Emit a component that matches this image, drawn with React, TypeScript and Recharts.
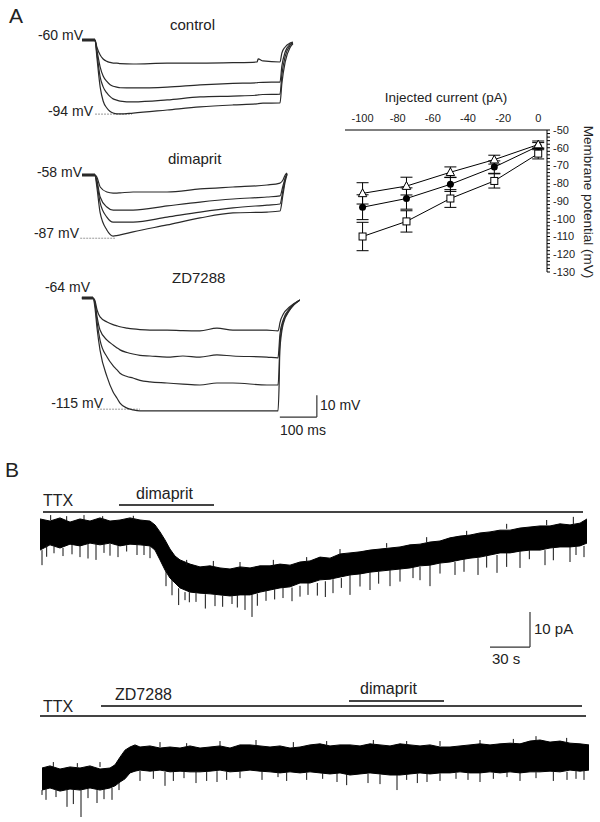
import React from "react";
import { LineChart, Line, AreaChart, Area, XAxis, YAxis, ReferenceLine, ErrorBar } from "recharts";

const FONT = '"Liberation Sans", Arial, Helvetica, sans-serif';
const INK = "#222";

// ---- A: voltage responses to current steps (ms, mV) ----
const ctrlTime = [-35, 0, 5, 14, 22, 32, 41, 49, 59, 68, 103, 195, 284, 373, 438, 441, 454, 500, 505, 514, 527, 535];
const ctrlSweep1 = [-60, -60, -63.2, -66.9, -68.7, -69.8, -70.3, -70.6, -70.6, -70.8, -71.0, -70.6, -70.6, -70.4, -70.1, -68.7, -69.6, -70.1, -66.0, -63.2, -61.4, -60.9];
const ctrlSweep2 = [-60, -60, -64.5, -72.4, -76.5, -79.0, -80.5, -81.2, -81.6, -81.9, -82.0, -81.6, -80.6, -79.9, -79.6, -79.5, -79.4, -79.3, -72.0, -65.5, -62.0, -61.2];
const ctrlSweep3 = [-60, -60, -66.0, -77.0, -81.5, -84.3, -86.0, -87.0, -87.6, -88.0, -88.4, -87.5, -86.1, -85.7, -85.3, -85.2, -85.0, -84.8, -76.0, -67.5, -62.5, -61.5];
const ctrlSweep4 = [-60, -60, -67.8, -81.6, -88.0, -91.2, -92.8, -93.5, -93.9, -93.9, -93.5, -92.1, -90.7, -89.8, -89.3, -89.2, -89.0, -88.9, -80.0, -70.0, -63.5, -61.8];

const dimTime = [-35, 0, 5, 14, 32, 49, 59, 68, 103, 195, 284, 373, 465, 500, 508, 514, 519];
const dimSweep1 = [-58, -58, -58.9, -63.5, -65.8, -66.3, -66.3, -66.2, -65.8, -65.8, -64.4, -63.5, -62.6, -61.7, -60.3, -58.0, -57.1];
const dimSweep2 = [-58, -58, -60.3, -68.1, -72.7, -74.1, -74.1, -74.1, -74.1, -72.2, -70.4, -69.0, -68.1, -67.6, -63.0, -59.5, -57.3];
const dimSweep3 = [-58, -58, -61.7, -70.8, -77.3, -79.6, -79.6, -79.6, -79.6, -77.3, -75.0, -73.1, -71.8, -71.3, -65.0, -60.0, -57.5];
const dimSweep4 = [-58, -58, -63.5, -75.4, -83.2, -86.0, -85.8, -85.5, -84.1, -80.9, -77.7, -75.4, -75.0, -74.5, -67.0, -61.0, -57.8];

const zdTime = [-30, 0, 5, 11, 19, 38, 54, 65, 73, 92, 108, 127, 154, 200, 243, 289, 335, 378, 470, 500, 503, 505, 514, 532, 559];
const zdSweep1 = [-64, -64, -65.0, -69.5, -72.7, -75.0, -76.2, -76.8, -77.2, -77.8, -78.2, -78.5, -78.7, -78.7, -79.0, -79.1, -77.8, -78.7, -78.7, -79.1, -77.5, -75.5, -71.5, -68.0, -64.9];
const zdSweep2 = [-64, -64, -66.0, -72.7, -78.7, -83.3, -85.5, -86.9, -87.8, -89.0, -89.7, -90.3, -90.6, -91.1, -90.6, -91.1, -90.1, -90.6, -91.1, -91.5, -86.0, -81.0, -74.0, -68.8, -64.9];
const zdSweep3 = [-64, -64, -66.3, -75.0, -83.3, -91.1, -95.0, -97.0, -98.5, -100.0, -100.7, -101.8, -102.5, -103.0, -103.5, -103.9, -103.0, -103.0, -103.9, -103.9, -96.0, -85.0, -75.0, -69.2, -64.9];
const zdSweep4 = [-64, -64, -68.1, -78.0, -87.9, -100.2, -107.0, -110.0, -112.2, -114.5, -115.3, -115.8, -115.8, -115.8, -115.8, -115.8, -115.8, -115.8, -115.8, -115.8, -104.0, -88.0, -76.0, -69.5, -64.9];

// ---- A: I-V relation (pA, mV) ----
const ivCurrent = [-100, -75, -50, -25, 0];
const ivControl = [-93.5, -88.6, -80.6, -70.9, -59.1];
const ivControlErr = [7, 6, 4, 3.5, 2];
const ivDimaprit = [-85.7, -81.6, -73.8, -66.7, -58.2];
const ivDimapritErr = [6, 5, 3, 2.5, 2];
const ivZd = [-110, -101.5, -88.6, -78.7, -63.3];
const ivZdErr = [8, 6, 5, 4, 3];
const ivCurrentTicks = [-100, -80, -60, -40, -20, 0];
const ivVoltageTicks = Array.from({ length: 41 }, (_, i) => -130 + i * 2);

// ---- B: holding current traces (s, pA), noise band edges ----
const b1Time = [0, 7.5, 15, 22.5, 30, 37.5, 45, 52.5, 60, 67.5, 75, 82.5, 86.25, 90, 93.75, 97.5, 101.25, 105,
  112.5, 120, 127.5, 135, 142.5, 150, 157.5, 165, 172.5, 180, 187.5, 195, 202.5, 210, 217.5, 225, 232.5, 240,
  247.5, 255, 262.5, 270, 277.5, 285, 292.5, 300, 307.5, 315, 322.5, 330, 337.5, 345, 352.5, 360, 367.5, 375,
  382.5, 390, 397.5, 405, 410.25];
const b1High = [0.3, -0.3, 0.6, -0.6, 0.3, -0.3, 0.6, -0.3, 0, 0.6, 0, -0.3, -1.4, -3.4, -5.7, -8.3, -10.3, -11.4,
  -12.6, -13.4, -13.1, -13.7, -14.0, -13.4, -13.7, -13.1, -13.1, -12.6, -12.9, -12.0, -11.7, -10.6, -10.9, -9.7,
  -9.4, -9.1, -8.6, -8.3, -8.0, -7.7, -7.1, -6.9, -6.3, -6.0, -5.1, -4.6, -4.3, -3.7, -3.4, -2.9, -2.9, -2.3, -2.0,
  -1.7, -1.7, -1.1, -1.4, -0.9, 0.3];
const b1Low = [-8.6, -7.1, -8.0, -6.9, -7.4, -6.6, -7.1, -6.6, -7.4, -6.9, -7.1, -7.4, -8.6, -11.4, -14.3, -16.6,
  -18.0, -19.4, -20.6, -20.9, -21.1, -21.4, -21.7, -21.4, -21.4, -20.6, -20.0, -19.4, -19.1, -18.0, -18.0, -17.1,
  -16.9, -16.3, -15.7, -15.4, -14.9, -14.6, -14.3, -14.0, -13.7, -13.1, -12.9, -12.3, -12.0, -11.4, -10.9, -10.6,
  -10.0, -9.4, -9.4, -8.9, -8.6, -8.6, -8.0, -7.7, -7.7, -7.4, -6.6];
// downward events
const b1SpikeTime = [1.5, 5, 10.5, 17.25, 24, 30, 36, 42, 48, 52.5, 58.5, 65, 72.75, 78, 82.5, 94.5, 99, 104, 108.75,
  112, 117, 124, 131.25, 137, 144, 148, 153.75, 159, 163, 169.5, 176, 182.25, 189, 195, 201, 208, 214, 219.75, 226,
  232.5, 240, 247.5, 254, 262.5, 270, 279.75, 285, 292.5, 300, 311.25, 318, 328.5, 335, 342.75, 350, 360, 367, 378.75,
  385, 397.5, 402, 408];
const b1SpikeFrom = [-8.6, -7.1, -7.5, -8.0, -7.0, -7.4, -6.8, -6.6, -6.8, -6.8, -7.4, -7.2, -7.1, -7.2, -7.4, -14.3,
  -17.0, -19.5, -20.6, -20.6, -20.9, -21.2, -21.4, -21.6, -21.4, -21.4, -21.4, -21.4, -21.0, -20.0, -19.8, -19.1,
  -19.3, -18.8, -18.0, -18.0, -17.5, -16.9, -16.6, -15.7, -15.4, -14.9, -14.7, -14.3, -14.0, -13.4, -13.3, -12.9,
  -12.3, -12.0, -11.2, -10.9, -10.2, -10.0, -9.3, -8.9, -8.6, -8.6, -8.0, -7.7, -7.5, -7.4];
const b1SpikeTo = [-12.9, -10.5, -9.5, -10.3, -9.8, -10.6, -11.0, -11.4, -9.4, -10.2, -10.6, -9.0, -10.0, -10.0, -10.9,
  -18.9, -21.5, -24.3, -22.9, -23.5, -23.4, -25.3, -24.6, -24.8, -24.0, -25.0, -25.7, -27.7, -24.5, -23.1, -22.7,
  -22.3, -23.2, -21.9, -21.4, -21.6, -22.0, -20.9, -19.4, -21.4, -19.0, -20.0, -18.2, -18.9, -17.6, -16.6, -17.2,
  -18.9, -15.3, -15.7, -14.8, -15.7, -13.6, -15.1, -13.4, -13.7, -11.2, -12.9, -11.5, -12.0, -10.0, -10.6];
// upward events
const b1UpTime = [8, 20, 33, 47, 55, 70, 80, 110, 130, 150, 175, 200, 225, 260, 290, 320, 350, 380, 400];
const b1UpFrom = [0, 0, 0, 0, 0, 0, 0, -12.9, -13.3, -13.4, -13.0, -12.0, -9.7, -7.9, -6.3, -4.4, -2.5, -1.5, -1.2];
const b1UpTo = [1.4, 1.1, 1.4, 1.1, 1.6, 1.2, 1.6, -11.4, -11.7, -12.0, -11.4, -10.6, -8.3, -6.6, -4.9, -3.1, -1.1, 0, 0.9];

const b2Time = [1.5, 7.5, 15, 22.5, 30, 37.5, 45, 52.5, 56.25, 60, 63.75, 67.5, 71.25, 75,
  82.5, 90, 97.5, 105, 112.5, 120, 127.5, 135, 142.5, 150, 157.5, 165, 172.5, 180, 187.5, 195, 202.5, 210, 217.5,
  225, 232.5, 240, 247.5, 255, 262.5, 270, 277.5, 285, 292.5, 300, 307.5, 315, 322.5, 330, 337.5, 345, 352.5, 360,
  367.5, 375, 382.5, 390, 397.5, 405, 411.75];
const b2High = [0, 0.6, -0.3, 0.3, 0, 0.6, -0.3, 0, 0.9, 3.1, 5.1, 6.0, 6.6, 6.0,
  6.3, 5.7, 6.0, 5.7, 6.3, 5.7, 6.0, 6.3, 5.7, 6.6, 6.6, 6.3, 6.0, 6.3, 5.7, 6.0, 6.6, 6.9, 6.3, 6.6, 6.6, 6.3,
  6.9, 6.6, 6.3, 6.9, 6.6, 6.3, 6.6, 6.0, 6.0, 6.3, 6.6, 6.9, 6.6, 6.9, 7.1, 6.9, 7.7, 8.0, 7.4, 7.7, 7.1, 6.9, 6.6];
const b2Low = [-6.3, -5.7, -6.6, -6.0, -6.3, -5.7, -6.3, -5.7, -5.1, -4.0, -3.1, -1.4, -0.9, -0.6,
  -0.9, -0.6, -1.1, -0.9, -1.1, -1.1, -0.9, -0.6, -1.1, -0.9, -0.6, -0.9, -1.1, -1.4, -1.1, -1.4, -1.1, -1.4, -1.7,
  -1.4, -2.0, -1.7, -1.4, -1.7, -2.0, -2.0, -1.7, -1.4, -1.7, -1.4, -1.4, -1.1, -1.4, -1.4, -1.1, -1.4, -1.1, -1.4,
  -1.1, -1.1, -0.9, -1.1, -0.6, -0.9, -0.6];
const b2SpikeTime = [1.5, 4.5, 12, 20.25, 25, 30.75, 36, 42.75, 48, 54, 59.25, 75, 85, 93.75, 100, 108, 117, 125,
  132.75, 140, 150, 166.5, 178.5, 185, 200, 212, 222.75, 230, 246, 255, 267.75, 275, 283, 290.25, 300, 312, 321,
  330, 340, 350.25, 360, 372, 385, 395.25, 402, 408];
const b2SpikeFrom = [-6.3, -6.0, -6.3, -6.0, -6.0, -6.3, -6.0, -6.3, -6.0, -5.7, -4.0, -0.8, -0.8, -1.1, -1.0, -1.0,
  -1.1, -0.9, -0.9, -1.0, -1.0, -0.9, -1.1, -1.2, -1.3, -1.5, -1.4, -1.6, -1.7, -1.8, -2.0, -1.8, -1.6, -1.7, -1.5,
  -1.4, -1.1, -1.3, -1.3, -1.1, -1.3, -1.2, -1.1, -1.1, -0.9, -0.7];
const b2SpikeTo = [-7.7, -9.1, -8.3, -11.1, -10.3, -14.0, -8.6, -10.0, -8.9, -9.1, -6.3, -3.7, -3.1, -5.1, -3.7, -2.9,
  -4.3, -3.7, -4.0, -3.4, -2.9, -3.4, -2.6, -3.7, -3.4, -3.1, -4.0, -4.9, -4.3, -4.6, -6.3, -3.4, -4.3, -4.0, -3.7,
  -3.1, -3.4, -4.0, -3.1, -2.6, -3.7, -2.9, -3.7, -3.4, -3.1, -3.4];
const b2UpTime = [10, 28, 45, 90, 110, 135, 162, 190, 215, 250, 275, 300, 330, 355, 372, 395];
const b2UpFrom = [0.3, 0.3, 0.3, 5.9, 6.0, 6.2, 6.3, 6.0, 6.3, 6.6, 6.6, 6.3, 6.6, 7.0, 7.8, 7.3];
const b2UpTo = [1.7, 1.4, 1.7, 7.4, 7.1, 7.7, 8.0, 7.4, 7.7, 8.0, 7.7, 7.7, 8.0, 8.3, 9.1, 8.6];

// drug application bars (s)
const b1Drugs = [
  { name: "TTX", from: 2.25, to: 407.25 },
  { name: "dimaprit", from: 59.25, to: 130.5 },
];
const b2Drugs = [
  { name: "TTX", from: 0, to: 409.5 },
  { name: "ZD7288", from: 45.75, to: 406.5 },
  { name: "dimaprit", from: 231.75, to: 303 },
];

// figure scales
const PX_PER_MS = 0.37;
const PX_PER_MV = 2.18;
const PX_PER_S = 40 / 30;
const PX_PER_PA = 3.5;
const B_X0 = 40;

function Txt({ x, y, size = 14, right, children }: any) {
  const style: any = {
    position: "absolute",
    top: y - size * 0.5,
    fontSize: size,
    lineHeight: 1,
    whiteSpace: "nowrap",
    color: INK,
  };
  if (right != null) style.right = 600 - right;
  else style.left = x;
  return <div style={style}>{children}</div>;
}

function SweepPanel({ time, sweeps, hold, peak, peakSpan, box, origin, scaleBar }: any) {
  const [left, top, width, height] = box;
  const [x0, y0] = origin;
  const data = time.map((t: number, i: number) => {
    const row: any = { t };
    sweeps.forEach((s: number[], k: number) => (row["s" + k] = s[i]));
    return row;
  });
  const xDomain = [(left - x0) / PX_PER_MS, (left + width - x0) / PX_PER_MS];
  const yDomain = [hold - (top + height - y0) / PX_PER_MV, hold + (y0 - top) / PX_PER_MV];
  return (
    <div style={{ position: "absolute", left, top }}>
      <LineChart width={width} height={height} data={data} margin={{ top: 0, right: 0, bottom: 0, left: 0 }}>
        <XAxis dataKey="t" type="number" domain={xDomain} hide allowDataOverflow />
        <YAxis type="number" domain={yDomain} hide allowDataOverflow />
        <ReferenceLine segment={[{ x: peakSpan[0], y: peak }, { x: peakSpan[1], y: peak }]} stroke="#999" strokeDasharray="2 1" />
        <ReferenceLine segment={[{ x: time[0], y: hold }, { x: 0, y: hold }]} stroke="#222" strokeWidth={3} />
        {sweeps.map((_: any, k: number) => (
          <Line key={k} dataKey={"s" + k} type="monotone" dot={false} stroke="#2a2a2a" strokeWidth={1.2} isAnimationActive={false} />
        ))}
        {scaleBar && (
          <ReferenceLine segment={[{ x: scaleBar.t - scaleBar.ms, y: scaleBar.v }, { x: scaleBar.t, y: scaleBar.v }]} stroke="#333" strokeWidth={1.2} />
        )}
        {scaleBar && (
          <ReferenceLine segment={[{ x: scaleBar.t, y: scaleBar.v }, { x: scaleBar.t, y: scaleBar.v + scaleBar.mv }]} stroke="#333" strokeWidth={1.2} />
        )}
      </LineChart>
    </div>
  );
}

function BandPanel({ time, high, low, events, box, y0, scaleBar }: any) {
  const [left, top, width, height] = box;
  const data = time.map((t: number, i: number) => ({ t, band: [low[i], high[i]] }));
  const xDomain = [(left - B_X0) / PX_PER_S, (left + width - B_X0) / PX_PER_S];
  const yDomain = [-(top + height - y0) / PX_PER_PA, (y0 - top) / PX_PER_PA];
  return (
    <div style={{ position: "absolute", left, top }}>
      <AreaChart width={width} height={height} data={data} margin={{ top: 0, right: 0, bottom: 0, left: 0 }}>
        <XAxis dataKey="t" type="number" domain={xDomain} hide allowDataOverflow />
        <YAxis type="number" domain={yDomain} hide allowDataOverflow />
        <Area dataKey="band" type="linear" stroke="#000" strokeWidth={1} fill="#000" fillOpacity={1} isAnimationActive={false} />
        {events.map(([ts, from, to]: number[][], k: number) =>
          ts.map((t: number, i: number) => (
            <ReferenceLine key={k + "-" + i} segment={[{ x: t, y: from[i] }, { x: t, y: to[i] }]} stroke="#111" strokeWidth={1} />
          ))
        )}
        {scaleBar && (
          <ReferenceLine segment={[{ x: scaleBar.t - scaleBar.s, y: scaleBar.i }, { x: scaleBar.t, y: scaleBar.i }]} stroke="#333" strokeWidth={1.2} />
        )}
        {scaleBar && (
          <ReferenceLine segment={[{ x: scaleBar.t, y: scaleBar.i }, { x: scaleBar.t, y: scaleBar.i + scaleBar.pa }]} stroke="#333" strokeWidth={1.2} />
        )}
      </AreaChart>
    </div>
  );
}

function DrugBar({ from, to, y }: any) {
  return (
    <div
      style={{
        position: "absolute",
        left: B_X0 + from * PX_PER_S,
        width: (to - from) * PX_PER_S,
        top: y,
        height: 1.5,
        background: "#444",
      }}
    />
  );
}

const OpenSquare = (p: any) =>
  p.cx == null ? <g /> : <rect key={p.key} x={p.cx - 3.5} y={p.cy - 3.5} width={7} height={7} fill="#fff" stroke="#000" strokeWidth={1} />;
const OpenTriangle = (p: any) =>
  p.cx == null ? <g /> : (
    <polygon key={p.key} points={`${p.cx},${p.cy - 4.5} ${p.cx + 4.2},${p.cy + 3.3} ${p.cx - 4.2},${p.cy + 3.3}`} fill="#fff" stroke="#000" strokeWidth={1} />
  );
const FilledDot = (p: any) => (p.cx == null ? <g /> : <circle key={p.key} cx={p.cx} cy={p.cy} r={3.5} fill="#000" />);

function IVChart() {
  const data = ivCurrent.map((c, i) => ({
    c,
    ctl: ivControl[i],
    ctlErr: ivControlErr[i],
    dim: ivDimaprit[i],
    dimErr: ivDimapritErr[i],
    zd: ivZd[i],
    zdErr: ivZdErr[i],
  }));
  const tick = { fontSize: 11, fill: INK, fontFamily: FONT };
  return (
    <div style={{ position: "absolute", left: 340, top: 80 }}>
      <LineChart width={260} height={220} data={data} margin={{ top: 0, right: 0, bottom: 28, left: 5 }}>
        <XAxis
          dataKey="c"
          type="number"
          orientation="top"
          domain={[-110, 5]}
          ticks={ivCurrentTicks}
          height={50}
          tickLine={false}
          tickSize={4}
          tickMargin={4}
          axisLine={{ stroke: "#000" }}
          tick={tick}
        />
        <YAxis
          type="number"
          orientation="right"
          domain={[-130, -50]}
          ticks={ivVoltageTicks}
          interval={0}
          width={53}
          tickSize={3}
          tickMargin={3}
          tickLine={{ stroke: "#000" }}
          axisLine={{ stroke: "#000" }}
          tickFormatter={(v: number) => (v % 10 === 0 ? String(v) : "")}
          tick={tick}
        />
        <Line dataKey="zd" stroke="#000" strokeWidth={1} dot={OpenSquare} isAnimationActive={false}>
          <ErrorBar dataKey="zdErr" width={6} stroke="#000" strokeWidth={1} direction="y" />
        </Line>
        <Line dataKey="ctl" stroke="#000" strokeWidth={1} dot={FilledDot} isAnimationActive={false}>
          <ErrorBar dataKey="ctlErr" width={6} stroke="#000" strokeWidth={1} direction="y" />
        </Line>
        <Line dataKey="dim" stroke="#000" strokeWidth={1} dot={OpenTriangle} isAnimationActive={false}>
          <ErrorBar dataKey="dimErr" width={6} stroke="#000" strokeWidth={1} direction="y" />
        </Line>
      </LineChart>
    </div>
  );
}

export default function App() {
  return (
    <div
      style={{
        position: "absolute",
        left: 0,
        top: 0,
        width: 600,
        height: 822,
        background: "#fff",
        fontFamily: FONT,
        overflow: "hidden",
      }}
    >
      <Txt x={9} y={15} size={21}>A</Txt>

      <SweepPanel
        time={ctrlTime}
        sweeps={[ctrlSweep1, ctrlSweep2, ctrlSweep3, ctrlSweep4]}
        hold={-60}
        peak={-94}
        peakSpan={[0, 100]}
        box={[75, 20, 240, 110]}
        origin={[95, 40]}
      />
      <Txt x={170} y={24} size={15}>control</Txt>
      <Txt right={83} y={35}>-60 mV</Txt>
      <Txt right={93} y={111}>-94 mV</Txt>

      <SweepPanel
        time={dimTime}
        sweeps={[dimSweep1, dimSweep2, dimSweep3, dimSweep4]}
        hold={-58}
        peak={-87}
        peakSpan={[-40, 54]}
        box={[75, 150, 240, 100]}
        origin={[95, 175]}
      />
      <Txt x={168} y={158} size={15}>dimaprit</Txt>
      <Txt right={82} y={172}>-58 mV</Txt>
      <Txt right={79} y={233}>-87 mV</Txt>

      <SweepPanel
        time={zdTime}
        sweeps={[zdSweep1, zdSweep2, zdSweep3, zdSweep4]}
        hold={-64}
        peak={-115}
        peakSpan={[11, 127]}
        box={[75, 280, 255, 145]}
        origin={[93, 298]}
        scaleBar={{ t: 605, v: -118.6, ms: 100, mv: 10 }}
      />
      <Txt x={172} y={277} size={15}>ZD7288</Txt>
      <Txt right={90} y={287}>-64 mV</Txt>
      <Txt right={103} y={403}>-115 mV</Txt>
      <Txt x={320} y={405}>10 mV</Txt>
      <Txt x={280} y={430}>100 ms</Txt>

      <IVChart />
      <div
        style={{
          position: "absolute",
          left: 446,
          top: 97,
          transform: "translate(-50%, -50%)",
          fontSize: 13.5,
          whiteSpace: "nowrap",
          color: INK,
        }}
      >
        Injected current (pA)
      </div>
      <div
        style={{
          position: "absolute",
          left: 588,
          top: 202,
          transform: "translate(-50%, -50%) rotate(90deg)",
          fontSize: 13.5,
          whiteSpace: "nowrap",
          color: INK,
        }}
      >
        Membrane potential (mV)
      </div>

      <Txt x={5} y={469} size={21}>B</Txt>
      <Txt x={43} y={501} size={16}>TTX</Txt>
      <Txt x={136} y={494} size={16}>dimaprit</Txt>
      <DrugBar from={b1Drugs[0].from} to={b1Drugs[0].to} y={511} />
      <DrugBar from={b1Drugs[1].from} to={b1Drugs[1].to} y={504} />
      <BandPanel
        time={b1Time}
        high={b1High}
        low={b1Low}
        events={[
          [b1SpikeTime, b1SpikeFrom, b1SpikeTo],
          [b1UpTime, b1UpFrom, b1UpTo],
        ]}
        box={[40, 515, 552, 140]}
        y0={520}
        scaleBar={{ t: 367.5, i: -36.3, s: 30, pa: 10 }}
      />
      <Txt x={534} y={628} size={15}>10 pA</Txt>
      <Txt x={492} y={658} size={15}>30 s</Txt>

      <Txt x={43} y={707} size={16}>TTX</Txt>
      <Txt x={115} y={695} size={16}>ZD7288</Txt>
      <Txt x={360} y={689} size={16}>dimaprit</Txt>
      <DrugBar from={b2Drugs[0].from} to={b2Drugs[0].to} y={715} />
      <DrugBar from={b2Drugs[1].from} to={b2Drugs[1].to} y={705} />
      <DrugBar from={b2Drugs[2].from} to={b2Drugs[2].to} y={700} />
      <BandPanel
        time={b2Time}
        high={b2High}
        low={b2Low}
        events={[
          [b2SpikeTime, b2SpikeFrom, b2SpikeTo],
          [b2UpTime, b2UpFrom, b2UpTo],
        ]}
        box={[40, 730, 552, 92]}
        y0={768}
      />
    </div>
  );
}
